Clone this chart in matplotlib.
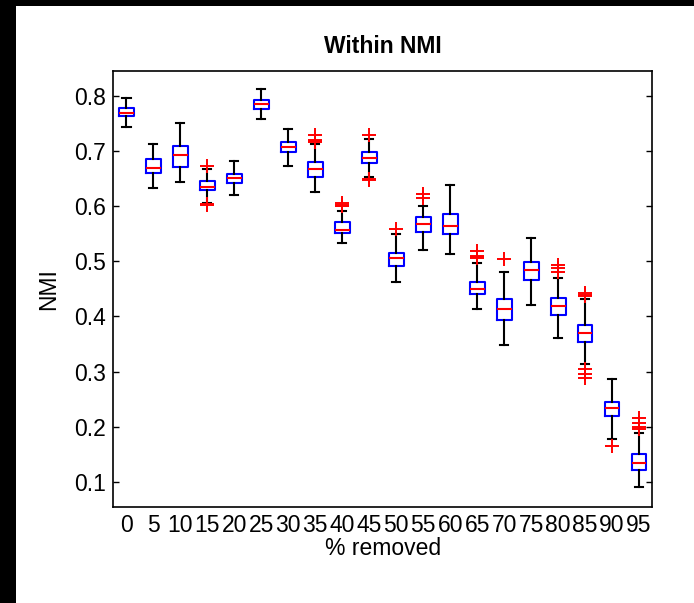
import matplotlib
matplotlib.use("Agg")
import matplotlib.pyplot as plt
from matplotlib.patches import Rectangle

plt.rcParams['font.family'] = ['Liberation Sans', 'DejaVu Sans']

# percent of items removed, one box per level
removed = ['0', '5', '10', '15', '20', '25', '30', '35', '40', '45',
           '50', '55', '60', '65', '70', '75', '80', '85', '90', '95']

# box summary values (NMI)
medians = [0.768, 0.668, 0.693, 0.634, 0.650, 0.784, 0.706, 0.666, 0.557, 0.687,
           0.505, 0.567, 0.564, 0.450, 0.413, 0.484, 0.418, 0.369, 0.234, 0.135]
q1 = [0.762, 0.659, 0.671, 0.628, 0.641, 0.776, 0.697, 0.653, 0.551, 0.678,
      0.491, 0.553, 0.549, 0.440, 0.393, 0.465, 0.402, 0.353, 0.220, 0.121]
q3 = [0.777, 0.685, 0.709, 0.645, 0.657, 0.792, 0.715, 0.679, 0.570, 0.697,
      0.515, 0.580, 0.585, 0.462, 0.431, 0.499, 0.434, 0.384, 0.245, 0.150]
whisker_lo = [0.743, 0.633, 0.644, 0.606, 0.619, 0.758, 0.672, 0.625, 0.533, 0.652,
              0.462, 0.521, 0.512, 0.413, 0.348, 0.421, 0.360, 0.313, 0.177, 0.091]
whisker_hi = [0.795, 0.713, 0.750, 0.666, 0.682, 0.811, 0.739, 0.712, 0.591, 0.721,
              0.549, 0.600, 0.638, 0.497, 0.480, 0.542, 0.470, 0.431, 0.286, 0.188]
outliers = [[], [], [], [0.672, 0.603, 0.601], [], [], [],
            [0.728, 0.719, 0.717, 0.716],
            [0.606, 0.602, 0.600, 0.599],
            [0.729, 0.649, 0.647],
            [0.558],
            [0.621, 0.614],
            [],
            [0.518, 0.510, 0.507, 0.505],
            [0.503],
            [],
            [0.493, 0.488, 0.481],
            [0.443, 0.439, 0.436, 0.305, 0.296, 0.289],
            [0.165],
            [0.215, 0.207, 0.200, 0.196]]

stats = []
for i in range(len(removed)):
    stats.append(dict(med=medians[i], q1=q1[i], q3=q3[i],
                      whislo=whisker_lo[i], whishi=whisker_hi[i],
                      fliers=outliers[i]))

fig = plt.figure(figsize=(6.94, 6.03), dpi=100)
ax = fig.add_axes([0.1628, 0.1587, 0.7774, 0.7241])

positions = list(range(1, len(removed) + 1))
ax.bxp(stats, positions=positions, widths=0.55, capwidths=0.3,
       boxprops=dict(color='#0000ff', linewidth=1.5),
       medianprops=dict(color='#ff0000', linewidth=1.5),
       whiskerprops=dict(color='black', linewidth=1.5),
       capprops=dict(color='black', linewidth=1.5),
       flierprops=dict(marker='+', markeredgecolor='#ff0000',
                       markersize=10.5, markeredgewidth=1.4, linestyle='none'))

ax.set_xlim(0.5, 20.5)
ax.set_ylim(0.054, 0.845)
ax.set_xticks(positions)
ax.set_xticklabels(removed)
ax.set_yticks([0.1, 0.2, 0.3, 0.4, 0.5, 0.6, 0.7, 0.8])
ax.set_yticklabels(['0.1', '0.2', '0.3', '0.4', '0.5', '0.6', '0.7', '0.8'])

fs = 16.5
ax.tick_params(axis='y', direction='in', length=4.5, width=1, right=True,
               labelsize=fs, pad=5)
ax.tick_params(axis='x', length=0, labelsize=fs, pad=5)
for s in ax.spines.values():
    s.set_linewidth(1.2)

ax.set_title('Within NMI', fontsize=fs, fontweight='bold', pad=13)
ax.set_xlabel('% removed', fontsize=fs, labelpad=0)
ax.set_ylabel('NMI', fontsize=fs, labelpad=10)

# dark frame along the left and top edges
fig.patches.append(Rectangle((0, 0), 15.5 / 694, 1, transform=fig.transFigure,
                             facecolor='black', edgecolor='none', zorder=10))
fig.patches.append(Rectangle((0, 1 - 6 / 603), 1, 6 / 603, transform=fig.transFigure,
                             facecolor='black', edgecolor='none', zorder=10))

fig.savefig('out.png', dpi=100, facecolor='white')
